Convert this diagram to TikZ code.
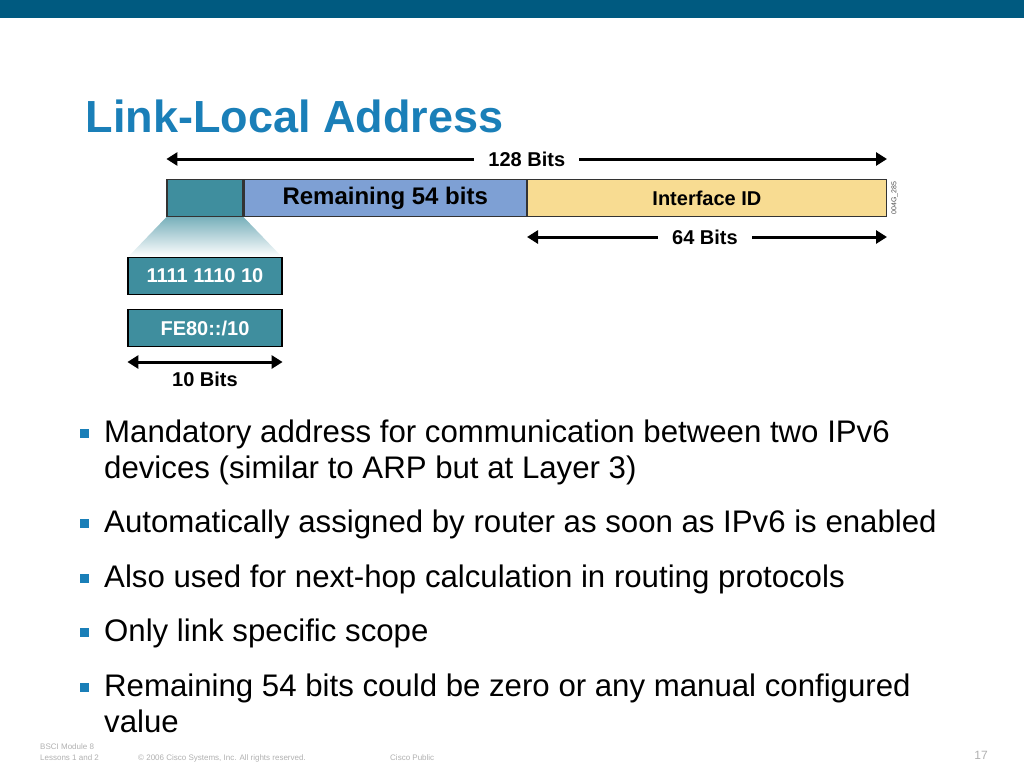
\documentclass[tikz,border=0pt]{standalone}
\usepackage{fontspec}
\setmainfont{Liberation Sans}
\usetikzlibrary{arrows.meta,positioning}
\definecolor{barblue}{HTML}{005A80}
\definecolor{titleblue}{HTML}{1A7FB8}
\definecolor{fieldteal}{HTML}{3F8E9E}
\definecolor{fieldblue}{HTML}{7EA0D4}
\definecolor{fieldyellow}{HTML}{F8DC92}
\definecolor{footgray}{HTML}{B0B0B0}
\begin{document}
\begin{tikzpicture}[
    x=1pt, y=-1pt,
    field/.style={rectangle, draw=black!80, line width=1.2pt, minimum height=37pt, inner sep=0pt, font=\fontsize{24}{26}\selectfont\bfseries},
    prefbox/.style={rectangle, draw=black, line width=1.2pt, fill=fieldteal, text=white, minimum width=154pt, minimum height=37pt, inner sep=0pt, font=\fontsize{20}{22}\selectfont\bfseries},
    dim/.style={{Triangle[length=11pt,width=13pt]}-{Triangle[length=11pt,width=13pt]}, line width=3pt},
    dimlabel/.style={fill=white, inner xsep=14pt, font=\fontsize{20}{22}\selectfont\bfseries},
    bullet/.style={anchor=north west, align=left, font=\fontsize{31.2}{36}\selectfont, inner sep=0pt},
    foot/.style={text=footgray, font=\fontsize{8}{9}\selectfont, inner sep=0pt}
]
\useasboundingbox (0,0) rectangle (1024,768);
\fill[barblue] (0,0) rectangle (1024,18);
\node[anchor=west, text=titleblue, font=\fontsize{45}{48}\selectfont\bfseries] (title) at (82,116) {Link-Local Address};

% Address fields
\node[field, fill=fieldteal, minimum width=76pt] (pre) at (205,198) {};
\node[field, fill=fieldblue, minimum width=282pt, right=0pt of pre] (rest) {Remaining 54 bits};
\node[field, fill=fieldyellow, minimum width=359pt, right=0pt of rest, font=\fontsize{20}{22}\selectfont\bfseries] (iid) {Interface ID};
\node[rotate=90, font=\fontsize{7}{8}\selectfont, text=black!70, right=1pt of iid.east, anchor=north] (code) {004G\_285};

% Zoom wedge
\shade[top color=fieldteal!70, bottom color=white] (pre.south west) -- (pre.south east) -- (282,257) -- (128,257) -- cycle;

% Prefix boxes
\node[prefbox] (bin) at (205,276) {1111 1110 10};
\node[prefbox, below=14pt of bin] (hex) {FE80::/10};

% Dimensions
\coordinate (a1) at (pre.west |- 0,159);
\coordinate (a2) at (iid.east |- 0,159);
\draw[dim] (a1) -- (a2);
\node[dimlabel] (l128) at (rest.east |- 0,159) {128 Bits};
\coordinate (b1) at (527,237);
\coordinate (b2) at (iid.east |- 0,237);
\draw[dim] (b1) -- (b2);
\node[dimlabel] (l64) at (705,237) {64 Bits};
\coordinate (c1) at (hex.west |- 0,362);
\coordinate (c2) at (hex.east |- 0,362);
\draw[dim] (c1) -- (c2);
\node[font=\fontsize{20}{22}\selectfont\bfseries] (l10) at (205,379) {10 Bits};

% Bullets
\foreach \y/\txt in {420/{Mandatory address for communication between two IPv6\\devices (similar to ARP but at Layer 3)},
                     510/{Automatically assigned by router as soon as IPv6 is enabled},
                     565/{Also used for next-hop calculation in routing protocols},
                     619/{Only link specific scope},
                     674/{Remaining 54 bits could be zero or any manual configured\\value}} {
  \fill[titleblue] (80,\y+9) rectangle (89,\y+18);
  \node[bullet] at (104,\y) {\txt};
}

% Footer
\node[foot, anchor=west] (mod) at (40,747) {BSCI Module 8};
\node[foot, anchor=west] (les) at (40,758) {Lessons 1 and 2};
\node[foot, anchor=west] (copy) at (138,758) {© 2006 Cisco Systems, Inc. All rights reserved.};
\node[foot, anchor=west] (pub) at (390,758) {Cisco Public};
\node[foot, anchor=east, font=\fontsize{12}{13}\selectfont] (page) at (988,755) {17};
\end{tikzpicture}
\end{document}
